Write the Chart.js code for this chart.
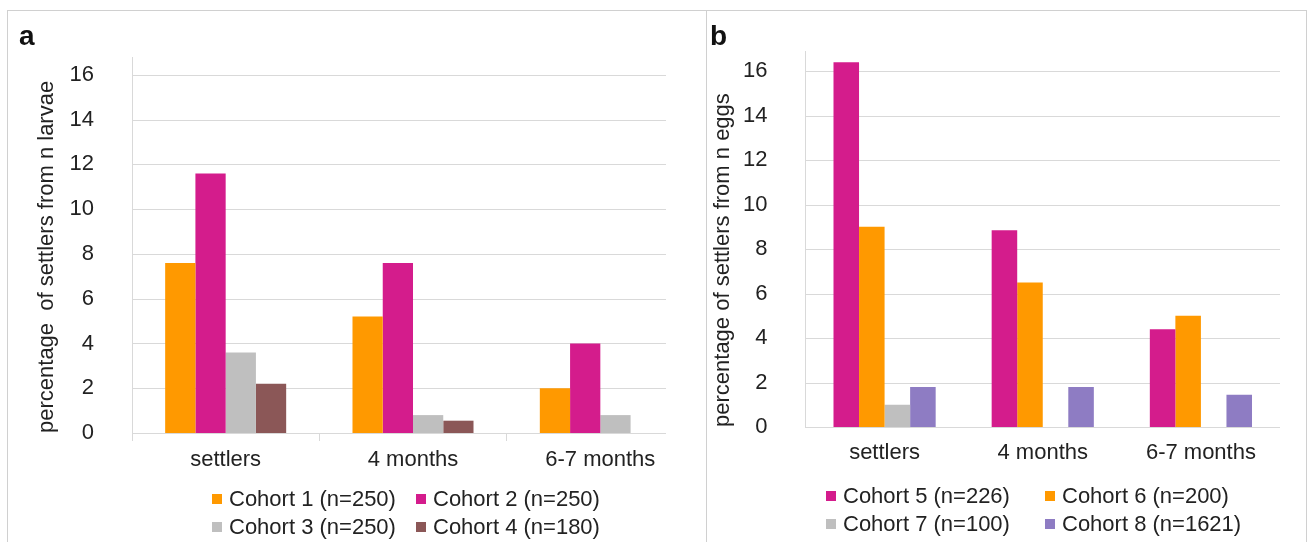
<!DOCTYPE html>
<html>
<head>
<meta charset="utf-8">
<script src="https://cdn.jsdelivr.net/npm/chart.js@4.4.0/dist/chart.umd.min.js"></script>
<style>
  html, body { margin: 0; padding: 0; background: #fff; }
  body { width: 1308px; height: 542px; position: relative; overflow: hidden;
         font-family: 'Liberation Sans', Arial, sans-serif; color: #222; }
  .frame { position: absolute; left: 7px; top: 10px; width: 1298px; height: 540px;
           border: 1px solid #d0d0d0; border-bottom: none; }
  .divider { position: absolute; left: 706px; top: 10px; width: 1px; height: 532px; background: #d0d0d0; }
  .panel { position: absolute; top: 0; height: 542px; }
  #panelA { left: 0; width: 706px; }
  #panelB { left: 707px; width: 601px; }
  .legend { position: absolute; display: grid; font-size: 22px; line-height: 28px; }
  #legendA { left: 212px; top: 485px; grid-template-columns: 204px 204px; }
  #legendB { left: 826px; top: 482px; grid-template-columns: 219px 219px; }
  .item { display: flex; align-items: center; white-space: nowrap; }
  .swatch { width: 10px; height: 10px; margin-right: 7px; flex: none; }
</style>
</head>
<body>
<div class="frame"></div>
<div class="divider"></div>
<div class="panel" id="panelA"><canvas id="chartA"></canvas></div>
<div class="panel" id="panelB"><canvas id="chartB"></canvas></div>
<div class="legend" id="legendA"></div>
<div class="legend" id="legendB"></div>
<script>
// categories and tick labels
const categories = ['settlers', '4 months', '6-7 months'];
const yTicks = [0, 2, 4, 6, 8, 10, 12, 14, 16];

// panel a: percentage of settlers from n larvae
const labelsA = ['Cohort 1 (n=250)', 'Cohort 2 (n=250)', 'Cohort 3 (n=250)', 'Cohort 4 (n=180)'];
const cohort1 = [7.6, 5.2, 2.0];
const cohort2 = [11.6, 7.6, 4.0];
const cohort3 = [3.6, 0.8, 0.8];
const cohort4 = [2.2, 0.55, 0];

// panel b: percentage of settlers from n eggs
const labelsB = ['Cohort 5 (n=226)', 'Cohort 6 (n=200)', 'Cohort 7 (n=100)', 'Cohort 8 (n=1621)'];
const cohort5 = [16.4, 8.85, 4.4];
const cohort6 = [9.0, 6.5, 5.0];
const cohort7 = [1.0, 0, 0];
const cohort8 = [1.8, 1.8, 1.45];

const ORANGE = '#ff9900';
const PINK = '#d41c8c';
const GREY = '#bfbfbf';
const BROWN = '#8b5757';
const PURPLE = '#8e7cc3';

const FONT = "'Liberation Sans', Arial, sans-serif";
const TEXT = '#222';
const GRID = '#d9d9d9';

// horizontal gridlines, drawn by hand so they can stop short of the right edge
const gridCut = {
    id: 'gridCut',
    beforeDatasetsDraw(chart, args, opts) {
        const {ctx, chartArea, scales: {y}} = chart;
        const right = chartArea.right - (opts.cut || 0);
        ctx.save();
        ctx.strokeStyle = GRID;
        ctx.lineWidth = 1;
        y.ticks.forEach(t => {
            const py = Math.round(y.getPixelForValue(t.value)) + 0.5;
            ctx.beginPath();
            ctx.moveTo(chartArea.left, py);
            ctx.lineTo(right, py);
            ctx.stroke();
        });
        ctx.restore();
    }
};

function makeChart(id, cfg) {
    const datasets = cfg.series.map((s, i) => ({
        label: cfg.labels[i],
        data: s,
        backgroundColor: cfg.colors[i],
        borderWidth: 0,
        barPercentage: 1,
        categoryPercentage: 0.646
    }));
    return new Chart(document.getElementById(id).getContext('2d'), {
        type: 'bar',
        data: { labels: categories, datasets: datasets },
        options: {
            responsive: true,
            maintainAspectRatio: false,
            animation: false,
            layout: { padding: { left: cfg.padLeft, right: cfg.padRight, top: 10, bottom: 0 } },
            plugins: {
                legend: { display: false },
                tooltip: { enabled: false },
                gridCut: { cut: cfg.cut },
                title: {
                    display: true,
                    text: cfg.panel,
                    align: 'start',
                    color: '#111',
                    font: { family: FONT, size: 28, weight: 'bold', lineHeight: 1 },
                    padding: { top: 13, bottom: cfg.titleGap }
                }
            },
            scales: {
                x: {
                    afterFit: s => { s.height = cfg.xHeight; },
                    border: { display: false },
                    grid: {
                        display: cfg.xTicks,
                        drawOnChartArea: false,
                        drawTicks: cfg.xTicks,
                        tickLength: 8,
                        color: ctx => ctx.index < 3 ? GRID : 'rgba(0,0,0,0)'
                    },
                    ticks: { color: TEXT, padding: cfg.xPad, font: { family: FONT, size: 22 } }
                },
                y: {
                    min: 0,
                    max: cfg.yMax,
                    afterFit: s => { s.width = cfg.yWidth; },
                    afterBuildTicks: s => { s.ticks = yTicks.map(v => ({ value: v })); },
                    border: { display: true, color: GRID, width: 1 },
                    grid: { display: false, drawTicks: false },
                    ticks: { color: TEXT, padding: 38, font: { family: FONT, size: 22 } },
                    title: {
                        display: true,
                        text: cfg.yTitle,
                        align: 'start',
                        color: TEXT,
                        font: { family: FONT, size: 22 },
                        padding: { top: cfg.yTitlePad, bottom: 0 }
                    }
                }
            }
        },
        plugins: [gridCut]
    });
}

function makeLegend(id, labels, colors) {
    const box = document.getElementById(id);
    labels.forEach((l, i) => {
        const item = document.createElement('div');
        item.className = 'item';
        const sw = document.createElement('span');
        sw.className = 'swatch';
        sw.style.background = colors[i];
        const txt = document.createElement('span');
        txt.textContent = l;
        item.appendChild(sw);
        item.appendChild(txt);
        box.appendChild(item);
    });
}

const colorsA = [ORANGE, PINK, GREY, BROWN];
const colorsB = [PINK, ORANGE, GREY, PURPLE];

makeChart('chartA', {
    panel: 'a',
    labels: labelsA,
    series: [cohort1, cohort2, cohort3, cohort4],
    colors: colorsA,
    yTitle: 'percentage  of settlers from n larvae',
    yMax: 16.8,
    padLeft: 19, padRight: 12, yWidth: 113, yTitlePad: 15,
    titleGap: 6, xHeight: 109, xTicks: true, xPad: 6, cut: 28
});

makeChart('chartB', {
    panel: 'b',
    labels: labelsB,
    series: [cohort5, cohort6, cohort7, cohort8],
    colors: colorsB,
    yTitle: 'percentage of settlers from n eggs',
    yMax: 16.9,
    padLeft: 3, padRight: 28, yWidth: 95.5, yTitlePad: 0,
    titleGap: 0, xHeight: 115, xTicks: false, xPad: 13, cut: 0
});

makeLegend('legendA', labelsA, colorsA);
makeLegend('legendB', labelsB, colorsB);
</script>
</body>
</html>
